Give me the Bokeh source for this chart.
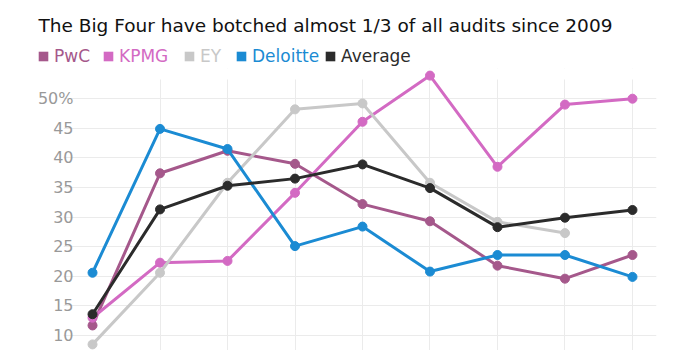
from bokeh.plotting import figure
from bokeh.layouts import column
from bokeh.models import Legend, LegendItem, FixedTicker, Range1d, BoxAnnotation, Label
from bokeh.embed import file_html
from bokeh.resources import INLINE

title_text = "The Big Four have botched almost 1/3 of all audits since 2009"
years = [2009, 2010, 2011, 2012, 2013, 2014, 2015, 2016, 2017]
pwc = [11.7, 37.4, 41.2, 39.0, 32.2, 29.3, 21.8, 19.6, 23.6]
kpmg = [13.0, 22.3, 22.6, 34.1, 46.1, 53.9, 38.5, 49.0, 50.0]
ey_years = [2009, 2010, 2011, 2012, 2013, 2014, 2015, 2016]
ey = [8.5, 20.6, 35.8, 48.2, 49.2, 35.8, 29.2, 27.3]
deloitte = [20.6, 44.9, 41.5, 25.1, 28.4, 20.8, 23.6, 23.6, 19.9]
average = [13.6, 31.3, 35.3, 36.5, 38.9, 34.9, 28.3, 29.9, 31.2]
y_ticks = [10, 15, 20, 25, 30, 35, 40, 45, 50]
y_labels = {50: "50%"}

series = [
    ("PwC", years, pwc, "#a5588b"),
    ("KPMG", years, kpmg, "#d36ac3"),
    ("EY", ey_years, ey, "#c8c8c8"),
    ("Deloitte", years, deloitte, "#1b8bd3"),
    ("Average", years, average, "#2b2b2b"),
]

FONT = "DejaVu Sans"
NAN = float("nan")

# ---- header: title + coloured legend ----
h = figure(width=700, height=68, output_backend="svg", toolbar_location=None,
           x_range=Range1d(0, 700), y_range=Range1d(0, 68),
           min_border=0, frame_align=False)
h.axis.visible = False
h.grid.visible = False
h.outline_line_color = None
h.add_layout(Label(x=38, y=43, text=title_text, text_font=FONT,
                   text_font_size="18.5px", text_color="#111111",
                   text_baseline="alphabetic"))

legend_x = [37, 102, 183, 235, 324]
for (name, xs, ys, col), lx in zip(series, legend_x):
    sw = h.quad(left=[NAN], right=[NAN], top=[NAN], bottom=[NAN],
                fill_color=col, line_color=None)
    lg = Legend(items=[LegendItem(label=name, renderers=[sw])],
                location=(lx, 2), orientation="horizontal",
                glyph_width=12, glyph_height=12, label_standoff=5,
                padding=0, margin=0, border_line_color=None,
                background_fill_alpha=0, label_text_color=col,
                label_text_font=FONT, label_text_font_size="17px")
    h.add_layout(lg, "center")

# ---- main chart ----
p = figure(width=700, height=282, output_backend="svg", toolbar_location=None,
           x_range=Range1d(2008.57, 2017.356), y_range=Range1d(7.47, 55.1),
           min_border_left=63, min_border_right=44, min_border_top=0,
           min_border_bottom=0, frame_align=False)
p.outline_line_color = None

p.xaxis.visible = False
p.xgrid.ticker = FixedTicker(ticks=years[1:])
p.ygrid.ticker = FixedTicker(ticks=y_ticks)
p.xgrid.grid_line_color = "#ebebeb"
p.ygrid.grid_line_color = "#ebebeb"
p.xgrid.level = "image"
p.ygrid.level = "image"

cover = BoxAnnotation(bottom=53.24, fill_color="white", fill_alpha=1.0,
                      line_color=None, level="underlay")
p.add_layout(cover)

ax = p.yaxis[0]
ax.ticker = FixedTicker(ticks=y_ticks)
ax.major_label_overrides = y_labels
ax.axis_line_color = None
ax.major_tick_line_color = None
ax.minor_tick_line_color = None
ax.major_label_text_color = "#999999"
ax.major_label_text_font = FONT
ax.major_label_text_font_size = "16px"
ax.major_label_text_align = "left"
ax.major_label_standoff = -16

for name, xs, ys, col in series:
    p.line(xs, ys, line_color=col, line_width=3)
    p.scatter(xs, ys, marker="circle", size=9, fill_color=col, line_color=col)

open("out.html", "w").write(file_html(column(h, p, spacing=0), INLINE))
